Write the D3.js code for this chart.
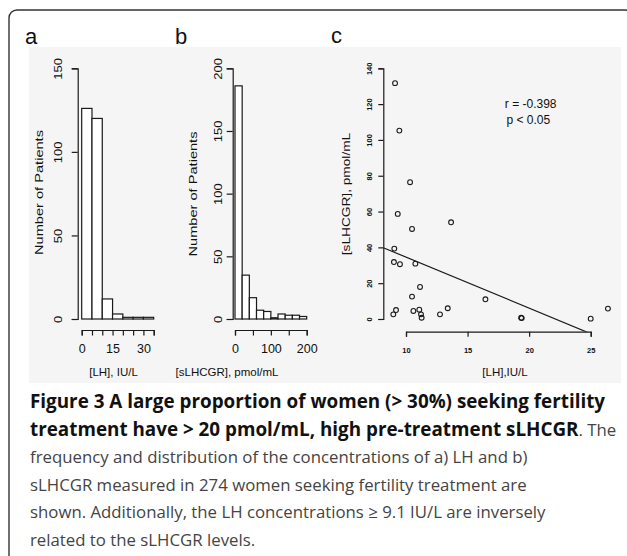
<!DOCTYPE html>
<html>
<head>
<meta charset="utf-8">
<script src="https://cdn.jsdelivr.net/npm/d3@7"></script>
<style>
  html, body { margin: 0; padding: 0; background: #fff; }
  svg { display: block; }
  .chart text { font-family: "Liberation Sans", Arial, sans-serif; fill: #111; }
  .caption text { font-family: "Open Sans", "Noto Sans", sans-serif; }
</style>
</head>
<body>
<svg id="fig" width="627" height="556"></svg>
<script>
// ---- Panel a: LH histogram (IU/L), bins of 5 ----
const lhBinEdges = [0, 5, 10, 15, 20, 25, 30, 35];
const lhCounts = [126, 120, 12, 3, 1, 1, 1];
const lhXTicks = [0, 5, 10, 15, 20, 25, 30, 35];
const lhXLabels = [0, 15, 30];
const lhYTicks = [0, 50, 100, 150];

// ---- Panel b: sLHCGR histogram (pmol/mL), bins of 20 ----
const sBinEdges = [0, 20, 40, 60, 80, 100, 120, 140, 160, 180, 200];
const sCounts = [186, 35, 17, 7, 6, 1, 4, 3, 3, 2];
const sXTicks = [0, 50, 100, 150, 200];
const sXLabels = [0, 100, 200];
const sYTicks = [0, 50, 100, 150, 200];

// ---- Panel c: LH >= 9.1 IU/L vs sLHCGR ----
const scatterLH = [9.11, 9.46, 10.33, 9.33, 10.49, 13.66, 9.05, 9.02, 9.51, 10.76, 11.14, 10.49,
                   9.19, 8.97, 10.6, 11.08, 11.22, 11.27, 12.76, 13.39, 16.45, 19.35, 19.4, 25.0, 26.4];
const scatterS = [131.7, 105.2, 76.4, 58.7, 50.3, 54.0, 39.3, 31.8, 30.6, 30.9, 17.9, 12.5,
                  5.0, 2.6, 4.5, 5.2, 2.6, 0.7, 2.6, 6.0, 11.0, 0.7, 0.5, 0.2, 5.8];
const fitIntercept = 63.06;
const fitSlope = -2.85;
const statLines = ["r = -0.398", "p < 0.05"];
const cXTicks = [10, 15, 20, 25];
const cYTicks = [0, 20, 40, 60, 80, 100, 120, 140];

const panelLetters = ["a", "b", "c"];
const captionLines = [
  [{ t: "Figure 3 A large proportion of women (> 30%) seeking fertility", b: true }],
  [{ t: "treatment have > 20 pmol/mL, high pre-treatment sLHCGR", b: true }, { t: ". The", b: false }],
  [{ t: "frequency and distribution of the concentrations of a) LH and b)", b: false }],
  [{ t: "sLHCGR measured in 274 women seeking fertility treatment are", b: false }],
  [{ t: "shown. Additionally, the LH concentrations \u2265 9.1 IU/L are inversely", b: false }],
  [{ t: "related to the sLHCGR levels.", b: false }]
];

const svg = d3.select("#fig");
const ink = "#1a1a1a";

// outer frame with rounded corner
svg.append("rect")
  .attr("x", 9).attr("y", 10).attr("width", 624).attr("height", 580)
  .attr("rx", 8).attr("ry", 8)
  .attr("fill", "#fff").attr("stroke", "#333").attr("stroke-width", 1.4);

// figure area background
svg.append("rect")
  .attr("x", 29).attr("y", 47).attr("width", 592).attr("height", 336)
  .attr("fill", "#f5f5f5");

const chart = svg.append("g").attr("class", "chart");

// panel letters
[[25, 44], [175, 44], [331, 43]].forEach((p, i) => {
  chart.append("text").attr("x", p[0]).attr("y", p[1])
    .attr("font-size", 22).text(panelLetters[i]);
});

function styleAxis(g) {
  g.select(".domain").attr("stroke", ink).attr("stroke-width", 1.2);
  g.selectAll(".tick line").attr("stroke", ink).attr("stroke-width", 1.2);
}

// rotated y tick labels, R style
function rotateYLabels(g, offset, size, squeeze, bold) {
  g.selectAll(".tick text")
    .attr("x", null).attr("dy", null).attr("y", null)
    .attr("text-anchor", "middle")
    .attr("fill", ink)
    .attr("font-size", size)
    .attr("font-weight", bold ? "bold" : null)
    .attr("font-family", '"Liberation Sans", Arial, sans-serif')
    .attr("transform", `translate(${offset},0) rotate(-90) scale(1,${squeeze})`);
}

function rotatedTitle(x, y, txt, size, squeeze) {
  chart.append("text")
    .attr("text-anchor", "middle")
    .attr("font-size", size)
    .attr("transform", `translate(${x},${y}) rotate(-90) scale(1,${squeeze})`)
    .text(txt);
}

function histogram(edges, counts, x, y) {
  const bins = counts.map((c, i) => ({ x0: edges[i], x1: edges[i + 1], n: c }));
  chart.append("g").selectAll("rect").data(bins).join("rect")
    .attr("x", d => x(d.x0))
    .attr("y", d => y(d.n))
    .attr("width", d => x(d.x1) - x(d.x0))
    .attr("height", d => y(0) - y(d.n))
    .attr("fill", "#fff")
    .attr("stroke", ink)
    .attr("stroke-width", 1.2);
}

function bottomAxis(x, ticks, labels, yPos) {
  const g = chart.append("g")
    .attr("transform", `translate(0,${yPos})`)
    .call(d3.axisBottom(x).tickValues(ticks).tickSizeOuter(0).tickSize(5.5).tickPadding(3)
      .tickFormat(d => labels.includes(d) ? d : ""));
  styleAxis(g);
  g.selectAll(".tick text").attr("font-size", 12.5).attr("fill", ink)
    .attr("font-family", '"Liberation Sans", Arial, sans-serif')
    .attr("y", 23).attr("dy", null);
  return g;
}

// ---------------- Panel a ----------------
const xA = d3.scaleLinear().domain([0, 35]).range([81.7, 153.7]);
const yA = d3.scaleLinear().domain([0, 150]).range([319, 68.3]);
histogram(lhBinEdges, lhCounts, xA, yA);
const yAxA = chart.append("g").attr("transform", "translate(77.7,0)")
  .call(d3.axisLeft(yA).tickValues(lhYTicks).tickSizeOuter(0).tickSize(6));
styleAxis(yAxA);
rotateYLabels(yAxA, -15.4, 13, 0.85, false);
rotatedTitle(43, 192.5, "Number of Patients", 14.6, 0.8);
bottomAxis(xA, lhXTicks, lhXLabels, 330);
chart.append("text").attr("x", 113.5).attr("y", 376).attr("text-anchor", "middle")
  .attr("font-size", 11.5).text("[LH], IU/L");

// ---------------- Panel b ----------------
const xB = d3.scaleLinear().domain([0, 200]).range([235, 306.7]);
const yB = d3.scaleLinear().domain([0, 200]).range([319, 68.3]);
histogram(sBinEdges, sCounts, xB, yB);
const yAxB = chart.append("g").attr("transform", "translate(232.7,0)")
  .call(d3.axisLeft(yB).tickValues(sYTicks).tickSizeOuter(0).tickSize(6));
styleAxis(yAxB);
rotateYLabels(yAxB, -10.7, 13, 0.85, false);
rotatedTitle(197, 194, "Number of Patients", 14.6, 0.8);
bottomAxis(xB, sXTicks, sXLabels, 330);
chart.append("text").attr("x", 227).attr("y", 376).attr("text-anchor", "middle")
  .attr("font-size", 11.5).text("[sLHCGR], pmol/mL");

// ---------------- Panel c ----------------
const xC = d3.scaleLinear().domain([10, 25]).range([406, 590.7]);
const yC = d3.scaleLinear().domain([0, 140]).range([319, 68.3]);
const plotLeft = 383.3, plotBottom = 331.7, plotRight = 618, plotTop = 60;

svg.append("defs").append("clipPath").attr("id", "plotC")
  .append("rect").attr("x", plotLeft).attr("y", plotTop)
  .attr("width", plotRight - plotLeft).attr("height", plotBottom - plotTop);

const lhEnds = [xC.invert(plotLeft), xC.invert(plotRight)];
chart.append("line")
  .attr("clip-path", "url(#plotC)")
  .attr("x1", xC(lhEnds[0])).attr("y1", yC(fitIntercept + fitSlope * lhEnds[0]))
  .attr("x2", xC(lhEnds[1])).attr("y2", yC(fitIntercept + fitSlope * lhEnds[1]))
  .attr("stroke", ink).attr("stroke-width", 1.2);

chart.append("g").selectAll("circle").data(scatterLH.map((v, i) => [v, scatterS[i]])).join("circle")
  .attr("cx", d => xC(d[0])).attr("cy", d => yC(d[1])).attr("r", 2.4)
  .attr("fill", "none").attr("stroke", ink).attr("stroke-width", 1.1);

const yAxC = chart.append("g").attr("transform", `translate(${plotLeft},0)`)
  .call(d3.axisLeft(yC).tickValues(cYTicks).tickSizeOuter(0).tickSize(5));
styleAxis(yAxC);
rotateYLabels(yAxC, -11.5, 7.5, 0.95, true);
rotatedTitle(350, 194, "[sLHCGR], pmol/mL", 13.7, 0.8);

const xAxC = chart.append("g").attr("transform", `translate(0,${plotBottom})`)
  .call(d3.axisBottom(xC).tickValues(cXTicks).tickSizeOuter(0).tickSize(5));
styleAxis(xAxC);
xAxC.selectAll(".tick text").attr("font-size", 7.5).attr("font-weight", "bold").attr("fill", ink)
  .attr("font-family", '"Liberation Sans", Arial, sans-serif')
  .attr("y", 21).attr("dy", null);
chart.append("text").attr("x", 505).attr("y", 376).attr("text-anchor", "middle")
  .attr("font-size", 11.5).text("[LH],IU/L");

chart.append("text").attr("x", 530.7).attr("y", 108.3).attr("text-anchor", "middle")
  .attr("font-size", 12).text(statLines[0]);
chart.append("text").attr("x", 528.3).attr("y", 124).attr("text-anchor", "middle")
  .attr("font-size", 12).text(statLines[1]);

// ---------------- Caption ----------------
const cap = svg.append("g").attr("class", "caption");
const capX = 30, capY0 = 408, capStep = 27.6;
const baseSize = 16;
const spans = [];
const lines = captionLines.map((parts, i) => {
  const t = cap.append("text").attr("x", capX).attr("y", capY0 + i * capStep);
  parts.forEach(p => {
    spans.push(t.append("tspan")
      .attr("font-weight", p.b ? "bold" : "normal")
      .attr("fill", p.b ? "#111" : "#444")
      .attr("font-size", baseSize)
      .datum(p)
      .text(p.t));
  });
  return t;
});
// bold heading lines fill the text column; body lines use a lighter, smaller size
const wBold = Math.max(lines[0].node().getComputedTextLength(), lines[1].node().getComputedTextLength());
const wBody = lines[4].node().getComputedTextLength();
const boldSize = baseSize * 591 / wBold;
const bodySize = baseSize * 516 / wBody;
spans.forEach(s => s.attr("font-size", s.datum().b ? boldSize : bodySize));
lines[1].selectAll("tspan").attr("font-size", d => d.b ? boldSize : bodySize);
</script>
</body>
</html>
